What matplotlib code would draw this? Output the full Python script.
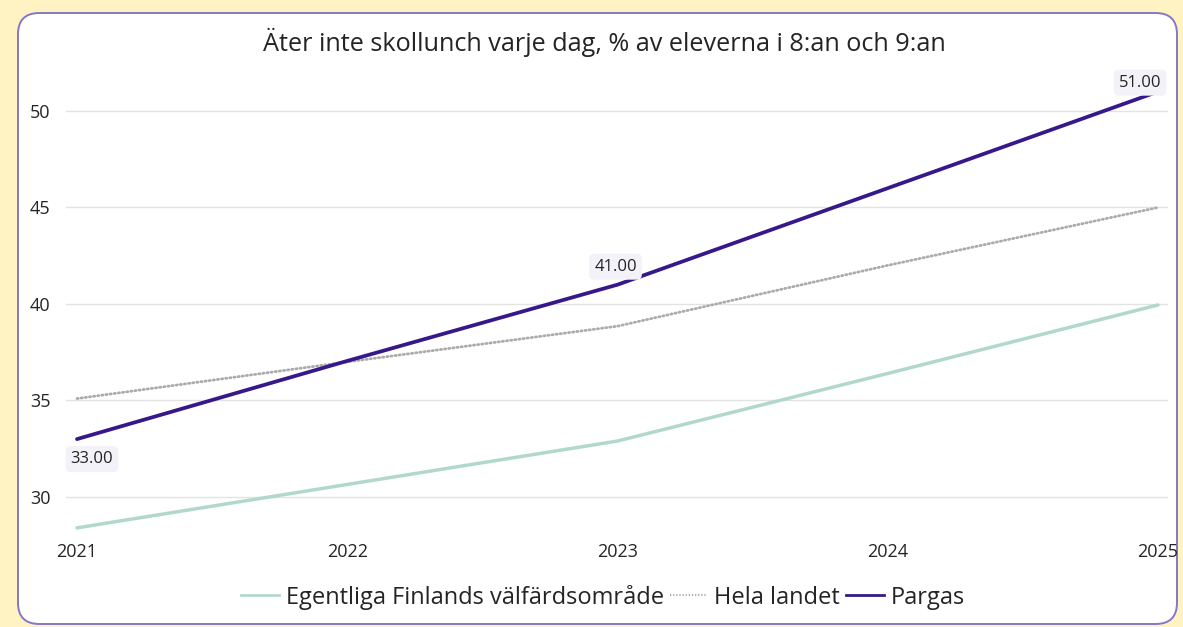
import matplotlib
matplotlib.use("Agg")
import matplotlib.pyplot as plt
from matplotlib.patches import FancyBboxPatch
from matplotlib.lines import Line2D

years = [2021, 2022, 2023, 2024, 2025]
egentliga = [28.4, 30.65, 32.9, 36.4, 39.95]
hela_landet = [35.1, 37.0, 38.85, 42.0, 45.0]
pargas = [33.0, 37.05, 41.0, 46.0, 51.0]
y_ticks = [30, 35, 40, 45, 50]
title = "Äter inte skollunch varje dag, % av eleverna i 8:an och 9:an"
series_names = ["Egentliga Finlands välfärdsområde", "Hela landet", "Pargas"]
label_years = [2021, 2023, 2025]

plt.rcParams['font.family'] = ['Open Sans', 'DejaVu Sans']

W, H = 1183, 627
fig = plt.figure(figsize=(W / 100, H / 100), dpi=100)
fig.patch.set_facecolor("#FFF3C4")

card = FancyBboxPatch((18 / W, 1 - 624 / H), (1177 - 18) / W, (624 - 13) / H,
                      boxstyle="round,pad=0,rounding_size=0.018",
                      transform=fig.transFigure, facecolor="white",
                      edgecolor="#8677C6", linewidth=1.4, zorder=-5,
                      mutation_aspect=W / H)
fig.patches.append(card)

ax = fig.add_axes([66 / W, 1 - 535.6 / H, (1168 - 66) / W, (535.6 - 68.5) / H])
ax.set_zorder(2)
ax.set_facecolor("none")
step = 270.25
ax.set_xlim(2021 - 11 / step, 2025 + 10 / step)
ax.set_ylim(28.0, 52.2)

c_teal = "#B2D8CE"
c_grey = "#ABABAB"
c_purple = "#37188A"

ax.plot(years, egentliga, color=c_teal, lw=2.5, solid_capstyle="round", zorder=3)
ax.plot(years, hela_landet, color=c_grey, lw=2.0, linestyle=(0, (0.45, 1.05)),
        dash_capstyle="round", zorder=3)
ax.plot(years, pargas, color=c_purple, lw=2.7, solid_capstyle="round", zorder=4)

ax.set_yticks(y_ticks)
ax.set_xticks(years)
ax.grid(axis="y", color="#E3E3E3", lw=1.0)
ax.set_axisbelow(True)
for s in ax.spines.values():
    s.set_visible(False)
ax.tick_params(axis="both", length=0, labelsize=13, colors="#252423")
ax.tick_params(axis="y", pad=11)
ax.tick_params(axis="x", pad=5)

# data labels
offsets = {2021: (15, -20), 2023: (-2, 18), 2025: (-18, 9)}
for yr in label_years:
    v = pargas[years.index(yr)]
    dx, dy = offsets[yr]
    ax.annotate(f"{v:.2f}", (yr, v), xytext=(dx, dy), textcoords="offset pixels",
                ha="center", va="center", fontsize=12, color="#252423", zorder=6,
                bbox=dict(boxstyle="round,pad=0.3,rounding_size=0.3",
                          facecolor="#F3F2F8", edgecolor="none"))

fig.text(604 / W, 1 - 42 / H, title, ha="center", va="center", fontsize=18.2,
         color="#252423")

handles = [Line2D([], [], color=c_teal, lw=2),
           Line2D([], [], color=c_grey, lw=1.5, linestyle=(0, (0.6, 0.9))),
           Line2D([], [], color=c_purple, lw=2)]
fig.legend(handles, series_names, loc="center", bbox_to_anchor=(603 / W, 1 - 597 / H),
           ncol=3, frameon=False, fontsize=17, handlelength=1.6, handletextpad=0.3,
           columnspacing=0.25, labelcolor="#252423")

fig.savefig("out.png", dpi=100, facecolor=fig.get_facecolor())
